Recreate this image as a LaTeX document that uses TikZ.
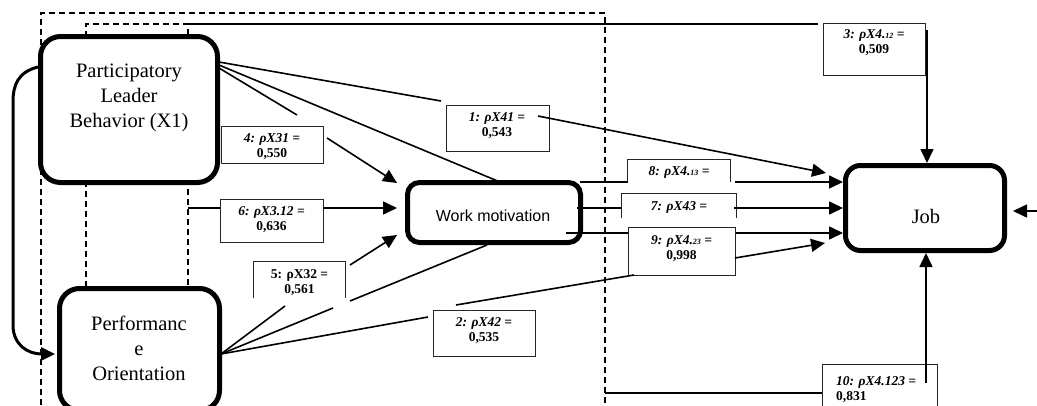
\documentclass[tikz,border=0pt]{standalone}
\usepackage{fontspec}
\setmainfont{Liberation Serif}
\newfontfamily\labfont{Liberation Serif}
\newfontfamily\wmsans{Liberation Sans}
\usetikzlibrary{arrows.meta}
\newcommand\smallsub[1]{{\fontsize{8}{8}\selectfont #1}}
\begin{document}
\begin{tikzpicture}[x=1pt,y=-1pt,
  bigbox/.style={draw,line width=5pt,fill=white,inner sep=0pt},
  maintext/.style={font=\fontsize{20.5}{25}\selectfont,align=center,inner sep=0pt},
  labbox/.style={draw=black!85,line width=0.9pt,fill=white,inner sep=0pt},
  openbox/.style={fill=white,inner sep=0pt},
  openline/.style={draw=black!85,line width=0.9pt},
  labtext/.style={font=\labfont\bfseries\fontsize{13.5}{15}\selectfont,align=center,inner sep=0pt},
  conn/.style={line width=1.6pt},
  arr/.style={conn,-{Triangle[length=14pt,width=13pt]}},
  dashline/.style={line width=1.6pt,dash pattern=on 6pt off 4pt}]

\useasboundingbox (0,0) rectangle (1037,405);
\clip (0,0) rectangle (1037,405);

% dashed frames
\draw[dashline] (41,405) -- (41,13) -- (605,13) -- (605,405);
\draw[dashline] (86,287) -- (86,24) -- (188,24) -- (188,287);

% free connector ends
\coordinate (f3) at (188,24);
\coordinate (f3e) at (818,24);
\coordinate (f6) at (188,208);
\coordinate (f10) at (605,393);

% main boxes
\node[bigbox,rounded corners=20pt,minimum width=177pt,minimum height=146pt] (plb) at (129,109.5) {};
\node[bigbox,rounded corners=20pt,minimum width=160pt,minimum height=122pt] (po) at (139.5,349.5) {};
\node[bigbox,rounded corners=12pt,minimum width=173pt,minimum height=60pt] (wm) at (494,212.5) {};
\node[bigbox,rounded corners=15pt,minimum width=159pt,minimum height=85pt] (job) at (925,208) {};

\node[maintext] (plbt) at (129,98) {Participatory\\Leader\\Behavior (X1)};
\node[maintext] (pot) at (139,348) {Performanc\\e\\Orientation};
\node[font=\wmsans\fontsize{16}{18}\selectfont,inner sep=0pt] (wmt) at (493,216) {Work motivation};
\node[maintext] (jobt) at (926,216) {Job};

% label boxes
\node[labbox,minimum width=103pt,minimum height=46pt] (b1) at (497.5,128) {};
\node[labbox,minimum width=102pt,minimum height=46pt] (b2) at (484,333) {};
\node[labbox,minimum width=102pt,minimum height=52pt] (b3) at (874,49) {};
\node[labbox,minimum width=102pt,minimum height=37pt] (b4) at (272,144.5) {};
\node[openbox,minimum width=91pt,minimum height=36pt] (b5) at (299.5,280) {};
\node[labbox,minimum width=103pt,minimum height=43pt] (b6) at (271.5,220.5) {};
\node[openbox,minimum width=114pt,minimum height=24pt] (b7) at (679,206) {};
\node[openbox,minimum width=102pt,minimum height=22pt] (b8) at (679,171) {};
\node[labbox,minimum width=107pt,minimum height=48pt] (b9) at (681.5,251) {};
\node[labbox,minimum width=115pt,minimum height=60pt] (b10) at (879.5,394) {};
\draw[openline] (b5.south west) -- (b5.north west) -- (b5.north east) -- (b5.south east);
\draw[openline] (b7.south west) -- (b7.north west) -- (b7.north east) -- (b7.south east);
\draw[openline] (b8.south west) -- (b8.north west) -- (b8.north east) -- (b8.south east);

\node[labtext] (t1) at (497,125.5) {\textit{1: ρX41 =}\\0,543};
\node[labtext] (t2) at (484,330.5) {\textit{2: ρX42 =}\\0,535};
\node[labtext] (t3) at (874,43) {\textit{3: ρX4.\smallsub{12} =}\\0,509};
\node[labtext] (t4) at (272,147) {\textit{4: ρX31 =}\\0,550};
\node[labtext] (t5) at (299.5,282.5) {5: ρX32 =\\0,561};
\node[labtext] (t6) at (271.5,219.5) {\textit{6: ρX3.12 =}\\0,636};
\node[labtext] (t7) at (679,207) {\textit{7: ρX43 =}};
\node[labtext] (t8) at (679,172) {\textit{8: ρX4.\smallsub{13} =}};
\node[labtext] (t9) at (681.5,248.5) {\textit{9: ρX4.\smallsub{23} =}\\0,998};
\node[labtext,align=left,anchor=west] (t10) at (836,389.5) {\textit{10: ρX4.123 =}\\0,831};

% connector points
\coordinate (p1) at (219,62);
\coordinate (p2) at (219,65);
\coordinate (p3) at (219,68);
\coordinate (q) at (221,354);
\coordinate (c1) at (441,101);
\coordinate (c1b) at (538,116);
\coordinate (c4) at (297,115);
\coordinate (c4b) at (327,138);
\coordinate (c5) at (285,306);
\coordinate (c5b) at (350,265);
\coordinate (c6a) at (333,308);
\coordinate (c6b) at (350,301);
\coordinate (c2) at (428,317);
\coordinate (c2b) at (456,305);
\coordinate (c2c) at (634,275);
\coordinate (c2d) at (735,258);
\coordinate (wtop) at (500,182);
\coordinate (wbot) at (487,245);
\coordinate (w1) at (397,183);
\coordinate (w0) at (397,208);
\coordinate (w2) at (397,235);
\coordinate (j1) at (826,173);
\coordinate (j5) at (825,243);
\coordinate (j3s) at (927,30);
\coordinate (j3e) at (927,163);
\coordinate (j10s) at (926,383);
\coordinate (j10e) at (926,253);
\coordinate (m8) at (580,182);
\coordinate (m7) at (577,208);
\coordinate (m9) at (566,233);
\coordinate (k8) at (735,182);
\coordinate (k7) at (734,208);
\coordinate (k9) at (736,233);
\coordinate (e8) at (843,182);
\coordinate (e7) at (843,208);
\coordinate (e9) at (843,233);
\coordinate (r0) at (1037,211);
\coordinate (r1) at (1013,211);
\coordinate (cs) at (38,67);
\coordinate (ce) at (55,354);

% connectors
\draw[conn] (p1) -- (c1);
\draw[arr] (c1b) -- (j1);
\draw[conn] (p2) -- (wtop);
\draw[conn] (p3) -- (c4);
\draw[arr] (c4b) -- (w1);
\draw[conn] (q) -- (c5);
\draw[arr] (c5b) -- (w2);
\draw[conn] (q) -- (c6a);
\draw[conn] (c6b) -- (wbot);
\draw[conn] (q) -- (c2);
\draw[conn] (c2b) -- (c2c);
\draw[arr] (c2d) -- (j5);
\draw[conn] (f6) -- (f6 -| b6.west);
\draw[arr] (f6 -| b6.east) -- (w0);
\draw[conn] (f3) -- (f3e);
\draw[arr] (j3s) -- (j3e);
\draw[conn] (f10) -- (f10 -| b10.west);
\draw[arr] (j10s) -- (j10e);
\draw[conn] (m8) -- (m8 -| b8.west);
\draw[arr] (k8) -- (e8);
\draw[conn] (m7) -- (m7 -| b7.west);
\draw[arr] (k7) -- (e7);
\draw[conn] (m9) -- (m9 -| b9.west);
\draw[arr] (k9) -- (e9);
\draw[arr] (r0) -- (r1);
\draw[line width=3pt,-{Triangle[length=14pt,width=13pt]}] (cs) .. controls (18,72) and (13,85) .. (13,102) -- (13,325) .. controls (13,345) and (28,354) .. (ce);
\end{tikzpicture}
\end{document}
